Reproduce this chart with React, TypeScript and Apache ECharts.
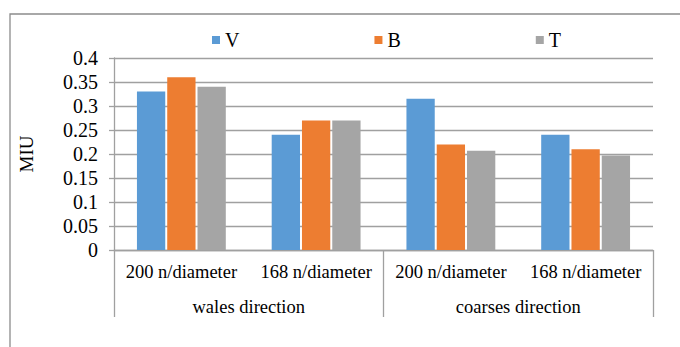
import React, { useEffect, useRef } from "react";
import * as echarts from "echarts";

// Category labels (inner level = needle count, outer level = direction)
const needleCategories = ["200 n/diameter", "168 n/diameter", "200 n/diameter", "168 n/diameter"];
const directionGroups = ["wales direction", "coarses direction"];

// MIU values per series
const seriesNames = ["V", "B", "T"];
const valuesV = [0.33, 0.24, 0.315, 0.24];
const valuesB = [0.36, 0.27, 0.22, 0.21];
const valuesT = [0.34, 0.27, 0.207, 0.197];

const colors = ["#5b9bd5", "#ed7d31", "#a5a5a5"];
const FONT = "Liberation Serif";

export default function App() {
  const ref = useRef<HTMLDivElement>(null);

  useEffect(() => {
    if (!ref.current) return;
    const chart = echarts.init(ref.current, null, { renderer: "svg" });
    const seriesData = [valuesV, valuesB, valuesT];

    chart.setOption({
      animation: false,
      backgroundColor: "#ffffff",
      color: colors,
      textStyle: { fontFamily: FONT },
      graphic: [
        {
          type: "rect",
          shape: { x: 10, y: 14, width: 720, height: 400 },
          style: { fill: "none", stroke: "#8c8c8c", lineWidth: 1.3 },
          silent: true,
        },
      ],
      legend: {
        top: 25,
        left: 207,
        itemWidth: 8,
        itemHeight: 8,
        itemGap: 135,
        icon: "rect",
        data: seriesNames,
        textStyle: { fontFamily: FONT, fontSize: 20, color: "#000" },
      },
      grid: { left: 114, right: 27, top: 58, bottom: 97 },
      xAxis: [
        {
          type: "category",
          data: needleCategories,
          position: "bottom",
          axisLine: { show: true, lineStyle: { color: "#a0a0a0", width: 1.3 } },
          axisTick: { show: false },
          axisLabel: { fontFamily: FONT, fontSize: 18.5, color: "#000", margin: 12, interval: 0 },
        },
        {
          type: "category",
          data: directionGroups,
          position: "bottom",
          axisLine: { show: false },
          axisTick: { show: true, length: 67, lineStyle: { color: "#a0a0a0", width: 1.3 } },
          axisLabel: { fontFamily: FONT, fontSize: 18.5, color: "#000", margin: 47, interval: 0 },
          splitLine: { show: false },
        },
      ],
      yAxis: {
        type: "value",
        min: 0,
        max: 0.4,
        interval: 0.05,
        name: "MIU",
        nameLocation: "middle",
        nameRotate: 90,
        nameGap: 78,
        nameTextStyle: { fontFamily: FONT, fontSize: 19, color: "#000" },
        axisLine: { show: true, lineStyle: { color: "#a0a0a0", width: 1.3 } },
        axisTick: { show: true, length: 5, lineStyle: { color: "#a0a0a0", width: 1.3 } },
        axisLabel: { fontFamily: FONT, fontSize: 20, color: "#000", margin: 16 },
        splitLine: { show: true, lineStyle: { color: "#a0a0a0", width: 1.4 } },
      },
      series: seriesNames.map((name, i) => ({
        name,
        type: "bar",
        xAxisIndex: 0,
        data: seriesData[i],
        barWidth: "21%",
        barGap: "7%",
        itemStyle: { color: colors[i] },
      })),
    });

    return () => chart.dispose();
  }, []);

  return (
    <div
      ref={ref}
      style={{ position: "fixed", left: 0, top: 0, width: 680, height: 347, background: "#fff" }}
    />
  );
}
